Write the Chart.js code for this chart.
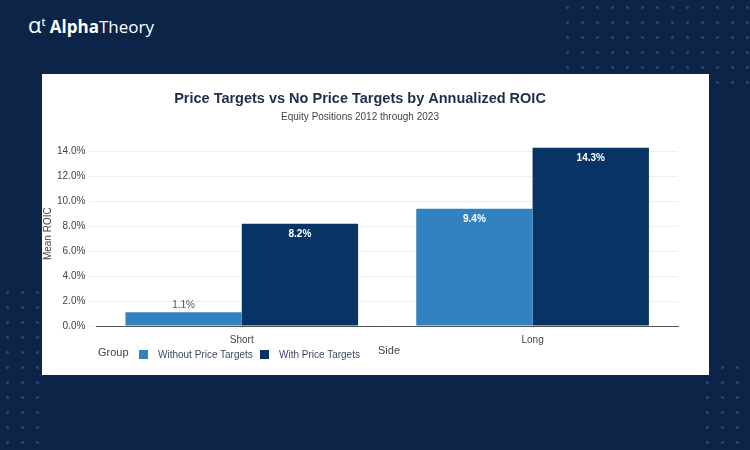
<!DOCTYPE html>
<html><head><meta charset="utf-8">
<script src="https://cdn.jsdelivr.net/npm/chart.js@4"></script>
<style>
body{margin:0;width:750px;height:450px;background:#0b2448;position:relative;overflow:hidden;font-family:"Open Sans",sans-serif}
.dots{position:absolute;background-image:radial-gradient(circle,#2a4670 1.3px,transparent 1.6px);background-size:15px 15px}
#logo{position:absolute;left:28px;top:9px;color:#fff;font:600 17px "Open Sans",sans-serif}
#logo b{font-weight:700}
#logo span{font-weight:400}
#panel{position:absolute;left:42px;top:74px;width:667px;height:301px;background:#fff}
.lab{position:absolute;font-size:11px;color:#444;font-family:"Liberation Sans",sans-serif}
.lg{position:absolute;font-size:10px;color:#3d4a66;font-family:"Liberation Sans",sans-serif;top:275px}
.lg i{display:inline-block;width:9px;height:9px;margin-right:10px;vertical-align:-1px}
</style></head><body>
<div class="dots" style="left:560px;top:0;width:190px;height:90px"></div>
<div class="dots" style="left:0;top:285px;width:45px;height:165px"></div>
<div class="dots" style="left:700px;top:360px;width:50px;height:90px"></div>
<div id="logo"><span style="font-size:22px;font-weight:400">&#945;</span><sup style="font-size:10px">t</sup> <b>Alpha</b><span>Theory</span></div>
<div id="panel"><canvas id="myChart" width="667" height="301"></canvas>
<div class="lab" style="left:56px;top:272px">Group</div>
<div class="lg" style="left:97px"><i style="background:#3282bf"></i>Without Price Targets</div>
<div class="lg" style="left:218px"><i style="background:#073464"></i>With Price Targets</div>
<div class="lab" style="left:336px;top:270px">Side</div>
</div>
<script>
const categories = ["Short", "Long"];
const withoutTargets = [1.1, 9.4];
const withTargets = [8.2, 14.3];
const yTicks = [0, 2, 4, 6, 8, 10, 12, 14];

const labelPlugin = {
  id: "labels",
  afterDatasetsDraw(chart) {
    const ctx = chart.ctx;
    ctx.save();
    ctx.textAlign = "center";
    chart.data.datasets.forEach((ds, i) => {
      chart.getDatasetMeta(i).data.forEach((bar, j) => {
        const v = ds.data[j];
        const h = bar.base - bar.y;
        if (h > 20) {
          ctx.font = "bold 10px 'Liberation Sans', sans-serif";
          ctx.fillStyle = "#fff";
          ctx.fillText(v.toFixed(1) + "%", bar.x, bar.y + 13);
        } else {
          ctx.fillStyle = "#555";
          ctx.font = "10px 'Liberation Sans', sans-serif";
          ctx.fillText(v.toFixed(1) + "%", bar.x, bar.y - 4);
        }
      });
    });
    ctx.restore();
  }
};

new Chart("myChart", {
  type: "bar",
  data: {
    labels: categories,
    datasets: [
      { label: "Without Price Targets", data: withoutTargets, backgroundColor: "#3282bf" },
      { label: "With Price Targets", data: withTargets, backgroundColor: "#073464" }
    ]
  },
  options: {
    responsive: false,
    animation: false,
    layout: { padding: { right: 31, left: 0, bottom: 29 } },
    datasets: { bar: { categoryPercentage: 0.8, barPercentage: 1 } },
    plugins: {
      title: { display: true, text: "Price Targets vs No Price Targets by Annualized ROIC", color: "#1d2d4a", font: { size: 14.5, weight: "bold" }, padding: { top: 16, bottom: 4 } },
      subtitle: { display: true, text: "Equity Positions 2012 through 2023", color: "#444", font: { size: 10 }, padding: { bottom: 18 } },
      legend: { display: false },
      tooltip: { enabled: false }
    },
    scales: {
      x: {
        grid: { display: false },
        border: { color: "#555" },
        ticks: { color: "#444", font: { size: 10 }, padding: 0 }
      },
      y: {
        min: 0, max: 14.8,
        afterBuildTicks: (s) => { s.ticks = yTicks.map((v) => ({ value: v })); },
        ticks: { color: "#444", font: { size: 10 }, callback: (v) => v.toFixed(1) + "%" },
        grid: { color: "#eee" },
        border: { display: false },
        title: { display: true, text: "Mean ROIC", color: "#444", font: { size: 10 }, padding: 0 }
      }
    }
  },
  plugins: [labelPlugin]
});
</script>
</body></html>
